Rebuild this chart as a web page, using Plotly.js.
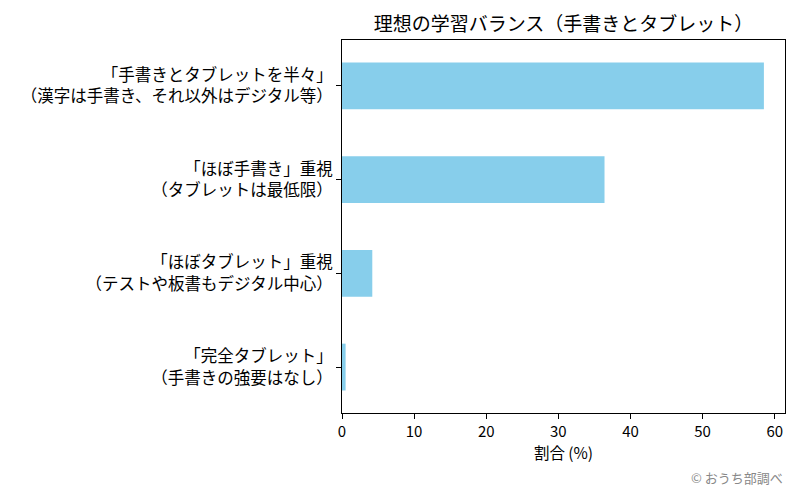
<!DOCTYPE html>
<html>
<head>
<meta charset="utf-8">
<script src="https://cdn.plot.ly/plotly-3.0.1.min.js"></script>
<style>
  html, body { margin: 0; padding: 0; background: #fff; }
  #chart { width: 800px; height: 500px; }
</style>
</head>
<body>
<div id="chart"></div>
<script>
// Survey: preferred balance between handwriting and tablets
const categories = [
  '「手書きとタブレットを半々」<br>（漢字は手書き、それ以外はデジタル等）',
  '「ほぼ手書き」重視<br>（タブレットは最低限）',
  '「ほぼタブレット」重視<br>（テストや板書もデジタル中心）',
  '「完全タブレット」<br>（手書きの強要はなし）'
];
const shares = [58.5, 36.4, 4.2, 0.5];
const xTicks = [0, 10, 20, 30, 40, 50, 60];

const FONT = '"Noto Sans CJK JP", "Noto Sans", sans-serif';

const trace = {
  type: 'bar',
  orientation: 'h',
  x: shares,
  y: categories,
  width: 0.5,
  marker: { color: '#87CEEB', line: { width: 0 } },
  hoverinfo: 'x+y'
};

const layout = {
  width: 800,
  height: 500,
  paper_bgcolor: '#ffffff',
  plot_bgcolor: '#ffffff',
  margin: { l: 342, r: 15, t: 40, b: 87 },
  font: { family: FONT, size: 15, color: '#000' },
  showlegend: false,
  title: {
    text: '理想の学習バランス（手書きとタブレット）',
    font: { family: FONT, size: 19, color: '#000' },
    xref: 'paper', x: 0.5, xanchor: 'center',
    yref: 'container', y: 1 - 24 / 500, yanchor: 'middle'
  },
  xaxis: {
    range: [0, 61.425],
    tickvals: xTicks,
    ticktext: xTicks.map(String),
    ticks: 'outside', ticklen: 5, tickwidth: 1, tickcolor: '#000',
    showline: true, linecolor: '#000', linewidth: 1, mirror: true,
    showgrid: false, zeroline: false,
    tickfont: { family: FONT, size: 15, color: '#000' },
    title: { text: '割合 (%)', font: { family: FONT, size: 15.5, color: '#000' }, standoff: 7 }
  },
  yaxis: {
    type: 'category',
    range: [3.49, -0.49],
    ticks: 'outside', ticklen: 5, tickwidth: 1, tickcolor: '#000',
    showline: true, linecolor: '#000', linewidth: 1, mirror: true,
    showgrid: false, zeroline: false,
    tickfont: { family: FONT, size: 16.5, color: '#000' }
  },
  annotations: [{
    text: '© おうち部調べ',
    xref: 'paper', yref: 'paper',
    x: 1, y: (413 - 477) / 373,
    xanchor: 'right', yanchor: 'middle',
    showarrow: false,
    font: { family: FONT, size: 13, color: '#888888' }
  }]
};

Plotly.newPlot('chart', [trace], layout, { displayModeBar: false, staticPlot: true });
</script>
</body>
</html>
